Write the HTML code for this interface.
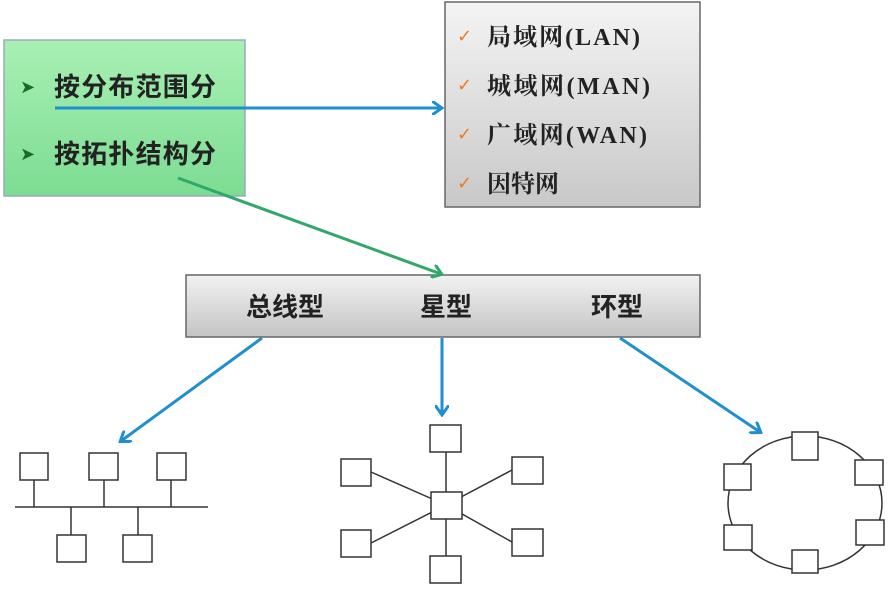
<!DOCTYPE html>
<html><head><meta charset="utf-8"><style>
html,body{margin:0;padding:0;background:#fff;}
body{width:888px;height:586px;overflow:hidden;position:relative;font-family:"Liberation Serif","Noto Serif CJK SC",serif;}
</style></head><body>
<svg width="888" height="586" viewBox="0 0 888 586" xmlns="http://www.w3.org/2000/svg">
<defs>
<linearGradient id="g" x1="0" y1="0" x2="0" y2="1"><stop offset="0" stop-color="#a8f0b4"/><stop offset="1" stop-color="#7ddc92"/></linearGradient>
<linearGradient id="gr" x1="0" y1="0" x2="0" y2="1"><stop offset="0" stop-color="#f4f4f4"/><stop offset="1" stop-color="#c8c8c8"/></linearGradient>
<linearGradient id="gr2" x1="0" y1="0" x2="0" y2="1"><stop offset="0" stop-color="#f2f2f2"/><stop offset="1" stop-color="#c4c4c4"/></linearGradient>
<marker id="ab" markerWidth="12" markerHeight="14" refX="9" refY="7" orient="auto" markerUnits="userSpaceOnUse"><path d="M0,0 L10,7 L0,14" fill="none" stroke="#1f8fd0" stroke-width="3"/></marker>
<marker id="ag" markerWidth="12" markerHeight="14" refX="9" refY="7" orient="auto" markerUnits="userSpaceOnUse"><path d="M0,0 L10,7 L0,14" fill="none" stroke="#2fa86a" stroke-width="3"/></marker>
</defs>
<rect x="4" y="40" width="241" height="156" fill="url(#g)" stroke="#9ab" stroke-width="1.5"/>
<text x="20" y="93" font-size="18" fill="#1a6a2a" font-family="DejaVu Sans">➤</text>
<text x="20" y="160" font-size="18" fill="#1a6a2a" font-family="DejaVu Sans">➤</text>
<g font-size="26" fill="#222" font-family="Liberation Sans,Noto Sans CJK SC,sans-serif" font-weight="bold">
<text x="54" y="96" textLength="162">按分布范围分</text>
<text x="54" y="163" textLength="162">按拓扑结构分</text>
</g>
<rect x="445" y="2" width="255" height="205" fill="url(#gr)" stroke="#666" stroke-width="1.5"/>
<g font-size="24" fill="#222" font-weight="bold">
<text x="487" y="45" textLength="153">局域网(LAN)</text>
<text x="487" y="94" textLength="163">城域网(MAN)</text>
<text x="487" y="143" textLength="160">广域网(WAN)</text>
<text x="487" y="192">因特网</text>
</g>
<g font-size="18" fill="#f07a20" font-family="DejaVu Sans">
<text x="457" y="42">✓</text><text x="457" y="91">✓</text><text x="457" y="140">✓</text><text x="457" y="189">✓</text>
</g>
<rect x="186" y="275" width="514" height="62" fill="url(#gr2)" stroke="#666" stroke-width="1.5"/>
<g font-size="26" fill="#222" font-family="Liberation Sans,Noto Sans CJK SC,sans-serif" text-anchor="middle" font-weight="bold">
<text x="285" y="316">总线型</text><text x="446" y="316">星型</text><text x="617" y="316">环型</text>
</g>
<line x1="55" y1="108" x2="441" y2="108" stroke="#1f8fd0" stroke-width="3" marker-end="url(#ab)"/>
<line x1="178" y1="178" x2="441" y2="274" stroke="#2fa86a" stroke-width="3" marker-end="url(#ag)"/>
<line x1="262" y1="338" x2="121" y2="441" stroke="#1f8fd0" stroke-width="3" marker-end="url(#ab)"/>
<line x1="442" y1="338" x2="442" y2="414" stroke="#1f8fd0" stroke-width="3" marker-end="url(#ab)"/>
<line x1="620" y1="338" x2="760" y2="432" stroke="#1f8fd0" stroke-width="3" marker-end="url(#ab)"/>
<g stroke="#333" stroke-width="1.5" fill="#fff">
<line x1="15" y1="507" x2="208" y2="507"/>
<line x1="34" y1="480" x2="34" y2="507"/><line x1="104" y1="480" x2="104" y2="507"/><line x1="171" y1="480" x2="171" y2="507"/>
<line x1="71" y1="507" x2="71" y2="535"/><line x1="138" y1="507" x2="138" y2="535"/>
<rect x="20" y="453" width="28" height="27"/><rect x="89" y="453" width="29" height="27"/><rect x="157" y="453" width="29" height="27"/>
<rect x="57" y="535" width="29" height="27"/><rect x="123" y="535" width="29" height="27"/>
<line x1="446" y1="452" x2="446" y2="556"/>
<line x1="371" y1="472" x2="446" y2="505"/><line x1="371" y1="543" x2="446" y2="505"/>
<line x1="512" y1="470" x2="446" y2="505"/><line x1="512" y1="542" x2="446" y2="505"/>
<rect x="431" y="492" width="31" height="27"/>
<rect x="430" y="425" width="31" height="27"/><rect x="430" y="556" width="31" height="27"/>
<rect x="341" y="459" width="30" height="27"/><rect x="341" y="530" width="30" height="27"/>
<rect x="512" y="457" width="31" height="27"/><rect x="512" y="529" width="31" height="27"/>
<ellipse cx="805" cy="503" rx="77" ry="67" fill="none"/>
<rect x="792" y="432" width="26" height="28"/><rect x="855" y="460" width="28" height="25"/>
<rect x="724" y="464" width="27" height="26"/><rect x="724" y="525" width="28" height="25"/>
<rect x="856" y="520" width="28" height="25"/><rect x="792" y="550" width="26" height="23"/>
</g>
</svg>
</body></html>
